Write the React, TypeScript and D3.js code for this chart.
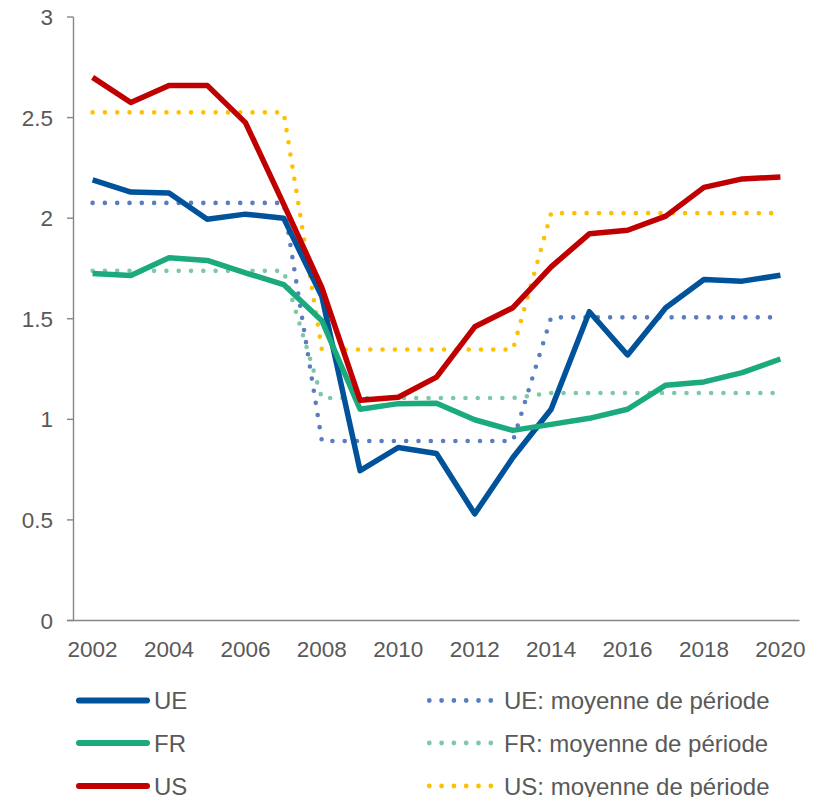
import React from "react";
import * as d3 from "d3";

const years = [2002, 2003, 2004, 2005, 2006, 2007, 2008, 2009, 2010, 2011, 2012, 2013, 2014, 2015, 2016, 2017, 2018, 2019, 2020];
const yearLabels = ["2002", "2004", "2006", "2008", "2010", "2012", "2014", "2016", "2018", "2020"];
const yTicks = [0, 0.5, 1, 1.5, 2, 2.5, 3];

const ue = [2.19, 2.13, 2.125, 1.995, 2.02, 2.0, 1.61, 0.745, 0.86, 0.83, 0.53, 0.81, 1.05, 1.535, 1.32, 1.555, 1.695, 1.687, 1.716];
const fr = [1.725, 1.715, 1.803, 1.79, 1.728, 1.67, 1.49, 1.05, 1.078, 1.08, 0.998, 0.945, 0.975, 1.005, 1.05, 1.17, 1.186, 1.232, 1.3];
const us = [2.7, 2.575, 2.66, 2.66, 2.475, 2.07, 1.655, 1.095, 1.11, 1.21, 1.46, 1.555, 1.758, 1.922, 1.94, 2.01, 2.153, 2.195, 2.205];

const ueMean = [2.076, 2.076, 2.076, 2.076, 2.076, 2.076, 0.892, 0.892, 0.892, 0.892, 0.892, 0.892, 1.507, 1.507, 1.507, 1.507, 1.507, 1.507, 1.507];
const frMean = [1.738, 1.738, 1.738, 1.738, 1.738, 1.738, 1.106, 1.106, 1.106, 1.106, 1.106, 1.106, 1.131, 1.131, 1.131, 1.131, 1.131, 1.131, 1.131];
const usMean = [2.526, 2.526, 2.526, 2.526, 2.526, 2.526, 1.347, 1.347, 1.347, 1.347, 1.347, 1.347, 2.025, 2.025, 2.025, 2.025, 2.025, 2.025, 2.025];

const solidSeries = [
  { name: "UE", values: ue, color: "#00529B" },
  { name: "FR", values: fr, color: "#1AAA7D" },
  { name: "US", values: us, color: "#C00000" },
];
const meanSeries = [
  { name: "UE: moyenne de période", values: ueMean, color: "#5B7DC0" },
  { name: "FR: moyenne de période", values: frMean, color: "#7DC8A8" },
  { name: "US: moyenne de période", values: usMean, color: "#FFC000" },
];

const FONT = "'Liberation Sans', Arial, sans-serif";
const AXIS = "#868686";
const TEXT = "#595959";

export default function App() {
  const x = d3.scaleBand<number>().domain(years).range([73.5, 799.5]).padding(0);
  const cx = (yr: number) => (x(yr) as number) + x.bandwidth() / 2;
  const y = d3.scaleLinear().domain([0, 3]).range([620.5, 17]);

  const line = (vals: number[]) =>
    d3
      .line<number>()
      .x((_, i) => cx(years[i]))
      .y((v) => y(v))(vals) as string;

  const legendRows = [700.5, 743, 786];

  return (
    <svg
      width={823}
      height={797}
      style={{ position: "absolute", left: 0, top: 0, background: "#fff" }}
      fontFamily={FONT}
    >
      {/* y axis */}
      <line x1={73.5} x2={73.5} y1={17} y2={620.5} stroke={AXIS} strokeWidth={1.4} />
      {yTicks.map((t) => (
        <g key={t}>
          <line x1={67} x2={73.5} y1={y(t)} y2={y(t)} stroke={AXIS} strokeWidth={1.4} />
          <text x={53} y={y(t)} dy="0.36em" textAnchor="end" fontSize={22.5} fill={TEXT}>
            {t}
          </text>
        </g>
      ))}
      {/* x axis */}
      <line x1={67} x2={799.5} y1={620.5} y2={620.5} stroke={AXIS} strokeWidth={1.4} />
      {yearLabels.map((l) => (
        <text key={l} x={cx(+l)} y={656.5} textAnchor="middle" fontSize={22.5} fill={TEXT}>
          {l}
        </text>
      ))}

      {/* mean dotted lines */}
      {meanSeries.map((s) => (
        <path
          key={s.name}
          d={line(s.values)}
          fill="none"
          stroke={s.color}
          strokeWidth={4.6}
          strokeLinecap="round"
          strokeDasharray="0 12.3"
        />
      ))}
      {/* solid lines */}
      {solidSeries.map((s) => (
        <path
          key={s.name}
          d={line(s.values)}
          fill="none"
          stroke={s.color}
          strokeWidth={5.5}
          strokeLinejoin="round"
        />
      ))}

      {/* legend */}
      {solidSeries.map((s, i) => (
        <g key={s.name}>
          <line x1={79} x2={147} y1={legendRows[i]} y2={legendRows[i]} stroke={s.color} strokeWidth={6} strokeLinecap="round" />
          <text x={154} y={legendRows[i]} dy="0.36em" fontSize={24} fill={TEXT}>
            {s.name}
          </text>
        </g>
      ))}
      {meanSeries.map((s, i) => (
        <g key={s.name}>
          <line
            x1={429.3}
            x2={491}
            y1={legendRows[i]}
            y2={legendRows[i]}
            stroke={s.color}
            strokeWidth={4.8}
            strokeLinecap="round"
            strokeDasharray="0 12.3"
          />
          <text x={504} y={legendRows[i]} dy="0.36em" fontSize={24} fill={TEXT}>
            {s.name}
          </text>
        </g>
      ))}
    </svg>
  );
}
